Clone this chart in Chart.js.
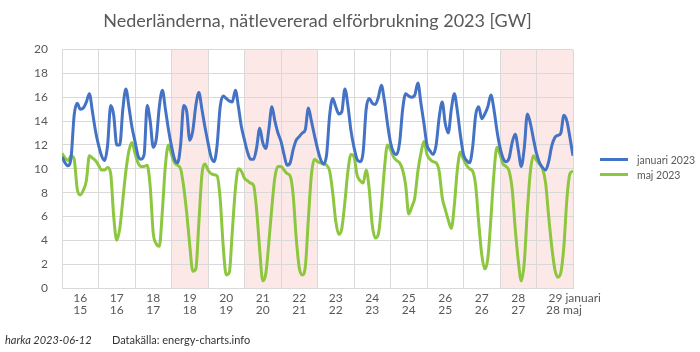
<!DOCTYPE html>
<html>
<head>
<meta charset="utf-8">
<script src="https://cdn.jsdelivr.net/npm/chart.js@4.4.0/dist/chart.umd.min.js"></script>
<style>
    html, body { margin: 0; padding: 0; background: #fff; }
    #wrap { position: relative; width: 700px; height: 352px; font-family: Lato, "Open Sans", sans-serif; }
    #legend { position: absolute; left: 600px; top: 152px; font-size: 10.5px; color: #595959; }
    #legend .item { display: flex; align-items: center; height: 15px; }
    #legend .swatch { width: 28px; height: 3px; margin-right: 9px; }
    .foot { position: absolute; top: 333px; font-size: 11px; color: #333; }
</style>
</head>
<body>
<div id="wrap">
    <canvas id="elChart" width="700" height="352"></canvas>
    <div id="legend"></div>
    <div class="foot" style="left:5px;font-style:italic">harka 2023-06-12</div>
    <div class="foot" style="left:112px">Datakälla: energy-charts.info</div>
</div>
<script>
// dagar som visas (januari / maj), en etikett per dygn
const janDays = [16, 17, 18, 19, 20, 21, 22, 23, 24, 25, 26, 27, 28, 29];
const majDays = [15, 16, 17, 18, 19, 20, 21, 22, 23, 24, 25, 26, 27, 28];
// dygn (index) med helg/helgdag, rosa bakgrund
const shadedDays = [3, 5, 6, 12, 13];
const yTicks = [0, 2, 4, 6, 8, 10, 12, 14, 16, 18, 20];

// GW, ett värde varannan timme från 00:00 första dygnet
const STEP = 2;
const jan2023 = [
    11.0, 10.5, 10.25, 11.0, 14.5, 15.5, 15.0, 15.1, 15.6, 16.3, 14.8, 13.2,
    12.0, 11.1, 10.7, 12.0, 15.3, 14.5, 12.0, 12.0, 15.0, 16.7, 15.2, 13.5,
    12.3, 11.1, 10.8, 11.2, 15.3, 14.0, 11.8, 12.5, 15.2, 16.6, 15.0, 13.3,
    11.9, 10.8, 10.5, 12.0, 15.3, 14.8, 12.4, 13.2, 15.3, 16.4, 15.0, 13.5,
    12.2, 11.0, 10.6, 12.0, 15.2, 16.1, 15.9, 15.7, 15.6, 16.6, 15.2, 13.5,
    12.4, 11.4, 10.8, 10.8, 11.8, 13.4, 12.2, 11.7, 13.3, 15.2, 14.0, 13.0,
    12.3, 11.2, 10.3, 10.5, 11.6, 12.4, 12.7, 13.0, 13.3, 15.1, 14.0, 12.8,
    11.7, 10.8, 10.4, 11.2, 14.5, 15.9, 15.2, 14.6, 14.8, 16.7, 15.3, 13.2,
    11.8, 10.8, 10.6, 11.4, 15.0, 15.9, 15.5, 15.4, 16.0, 17.0, 15.7, 13.8,
    12.2, 11.4, 11.2, 12.2, 15.0, 16.3, 16.1, 16.0, 16.2, 17.2, 15.5, 13.8,
    12.0, 11.5, 11.2, 12.0, 14.3, 15.6, 13.8, 13.0, 15.0, 16.3, 14.8, 12.8,
    11.2, 10.7, 10.5, 11.8, 14.5, 15.2, 14.2, 14.6, 15.2, 16.2, 15.0, 13.2,
    11.8, 10.9, 10.6, 10.9, 12.2, 12.9, 11.6, 10.2, 11.8, 14.6, 13.8, 12.5,
    11.3, 10.5, 10.1, 9.9, 10.6, 11.9, 12.6, 12.8, 13.0, 14.5, 14.0, 12.6,
    11.1
];
const maj2023 = [
    11.3, 10.9, 10.7, 11.1, 10.8, 8.3, 7.8, 8.2, 9.0, 11.1, 10.9, 10.7,
    10.3, 9.9, 9.9, 10.1, 9.6, 6.0, 4.0, 5.0, 7.4, 9.8, 11.5, 12.2,
    11.3, 10.5, 10.2, 10.2, 10.3, 8.5, 4.6, 3.7, 3.5, 6.5, 10.3, 12.0,
    11.2, 10.5, 10.3, 10.0, 8.5, 6.3, 3.6, 1.4, 1.6, 5.5, 9.5, 10.4,
    9.9, 9.6, 9.5, 9.4, 7.5, 3.5, 1.1, 1.3, 4.8, 8.3, 10.0, 9.8,
    9.2, 9.0, 8.8, 8.6, 6.5, 3.2, 0.6, 1.2, 3.8, 6.8, 9.3, 10.2,
    10.2, 9.9, 9.6, 9.4, 7.8, 4.2, 1.7, 1.1, 1.8, 5.8, 9.5, 10.8,
    10.6, 10.5, 10.4, 10.3, 9.8, 8.0, 5.6, 4.5, 5.0, 7.2, 9.8, 11.2,
    11.0, 9.5, 9.0, 8.8, 9.9, 8.3, 5.3, 4.2, 4.5, 6.8, 10.0, 12.0,
    11.6, 11.0, 10.7, 10.5, 9.9, 8.6, 6.2, 6.8, 7.6, 9.8, 11.3, 12.3,
    11.2, 10.8, 10.6, 10.5, 9.8, 7.6, 6.6, 5.7, 5.0, 7.0, 10.0, 11.4,
    10.8, 10.3, 10.0, 9.8, 8.6, 5.5, 2.8, 1.6, 2.5, 5.8, 9.6, 11.8,
    11.2, 10.4, 10.2, 9.8, 8.3, 5.0, 2.3, 0.6, 2.2, 6.5, 9.8, 11.1,
    10.7, 10.4, 10.0, 8.8, 6.0, 3.5, 1.6, 0.9, 1.3, 3.5, 7.5, 9.6,
    9.8
];

const HOURS = janDays.length * 24;
const toPoints = arr => arr.map((v, i) => ({ x: i * STEP, y: v }));

const weekendBg = {
    id: 'weekendBg',
    beforeDraw(chart) {
        const { ctx, chartArea, scales } = chart;
        ctx.save();
        ctx.fillStyle = 'rgba(250, 205, 205, 0.45)';
        shadedDays.forEach(d => {
            const x0 = scales.x.getPixelForValue(d * 24);
            const x1 = scales.x.getPixelForValue((d + 1) * 24);
            ctx.fillRect(x0, chartArea.top, x1 - x0, chartArea.bottom - chartArea.top);
        });
        ctx.restore();
    }
};

Chart.defaults.font.family = 'Lato, "Open Sans", sans-serif';
Chart.defaults.color = '#595959';

const ctx = document.getElementById('elChart').getContext('2d');
const chart = new Chart(ctx, {
    type: 'line',
    data: {
        datasets: [
            {
                label: 'januari 2023',
                data: toPoints(jan2023),
                borderColor: '#4472C4',
                borderWidth: 3,
                pointRadius: 0,
                cubicInterpolationMode: 'monotone'
            },
            {
                label: 'maj 2023',
                data: toPoints(maj2023),
                borderColor: '#8DC63F',
                borderWidth: 3,
                pointRadius: 0,
                cubicInterpolationMode: 'monotone'
            }
        ]
    },
    options: {
        responsive: false,
        animation: false,
        layout: { padding: { left: 0, right: 127, top: 0, bottom: 0 } },
        plugins: {
            legend: { display: false },
            tooltip: { enabled: false },
            title: {
                display: true,
                text: 'Nederländerna, nätlevererad elförbrukning 2023 [GW]',
                fullSize: false,
                color: '#595959',
                font: { size: 18, weight: 'normal' },
                padding: { top: 10, bottom: 18 }
            }
        },
        scales: {
            x: {
                type: 'linear',
                min: 0,
                max: HOURS,
                afterFit: s => { s.height = 64; },
                afterBuildTicks: s => {
                    s.ticks = [];
                    for (let v = 0; v <= HOURS; v += 12) s.ticks.push({ value: v });
                },
                grid: {
                    drawTicks: false,
                    color: c => (c.tick && c.tick.value % 24 === 0) ? '#d9d9d9' : 'rgba(0,0,0,0)'
                },
                border: { color: '#d9d9d9' },
                ticks: {
                    autoSkip: false,
                    maxRotation: 0,
                    padding: 4,
                    font: { size: 12, lineHeight: 1.0 },
                    callback: function (value) {
                        if (value % 24 !== 12) return '';
                        const d = (value - 12) / 24;
                        if (d === janDays.length - 1) {
                            return ['             ' + janDays[d] + ' januari', '      ' + majDays[d] + ' maj'];
                        }
                        return [String(janDays[d]), String(majDays[d])];
                    }
                }
            },
            y: {
                min: 0,
                max: 20,
                afterFit: s => { s.width = 62; },
                afterBuildTicks: s => { s.ticks = yTicks.map(v => ({ value: v })); },
                grid: { drawTicks: false, color: '#d9d9d9' },
                border: { color: '#d9d9d9' },
                ticks: { padding: 14, font: { size: 12 } }
            }
        }
    },
    plugins: [weekendBg]
});

// förklaring till höger
const legend = document.getElementById('legend');
chart.data.datasets.forEach(ds => {
    const item = document.createElement('div');
    item.className = 'item';
    item.innerHTML = '<span class="swatch" style="background:' + ds.borderColor + '"></span>' + ds.label;
    legend.appendChild(item);
});
</script>
</body>
</html>
